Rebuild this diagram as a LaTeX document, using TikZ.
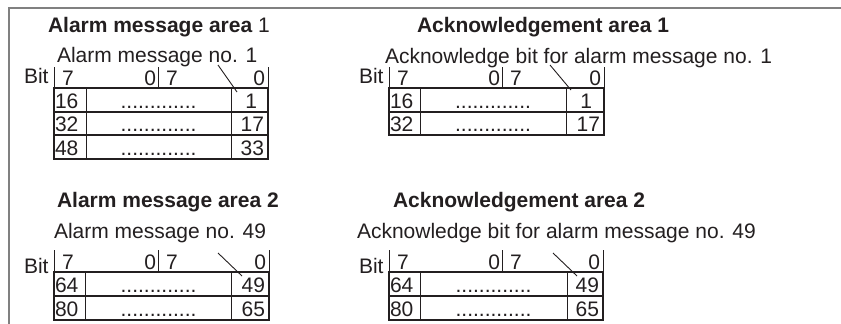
\documentclass[tikz,border=0pt]{standalone}
\usepackage{fontspec}
\setmainfont{Liberation Sans}
\usetikzlibrary{positioning, calc}
\definecolor{ink}{RGB}{35, 31, 32}
\definecolor{framegray}{RGB}{128, 128, 128}

\begin{document}
\begin{tikzpicture}[
        x=1pt, y=-1pt,
        every node/.style={inner sep=0pt, outer sep=0pt, text=ink,
                           font=\fontsize{21}{25}\selectfont},
        title/.style={anchor=base west, font=\fontsize{21}{25}\selectfont\bfseries},
        caption/.style={anchor=base west},
        lnum/.style={anchor=base west},
        rnum/.style={anchor=base east},
        dots/.style={anchor=base},
        box/.style={draw=ink, line width=2pt},
        grid/.style={draw=ink, line width=0.8pt},
        leader/.style={draw=ink, line width=0.9pt},
    ]
        \useasboundingbox (0,0) rectangle (841,324);
        \draw[framegray, line width=1.5pt] (9,324) -- (9,8) -- (841,8);

        % alarm message area 1
        \node[title] (a1-title) at (48,32) {Alarm message area \mdseries 1};
        \node[caption] (a1-caption) at (57,62) {Alarm message no. 1};
        \node[caption] (a1-bit) at (24,83) {Bit};
        \begin{scope}[shift={(54,88)}]
            \draw[grid] (0,-21) -- (0,0) (104,-21) -- (104,0) (214,-21) -- (214,0);
            \draw[grid] (32,0) -- (32,71) (177,0) -- (177,71);
            \draw[box] (0,0) rectangle (214,71);
            \draw[box] (0,23.5) -- (214,23.5) (0,47) -- (214,47);
            \node[lnum] (a1-h1) at (8,-3) {7};
            \node[rnum] (a1-h2) at (102,-3) {0};
            \node[lnum] (a1-h3) at (112,-3) {7};
            \node[rnum] (a1-h4) at (211,-3) {0};
            \foreach \l/\r/\rx [count=\i from 0] in {16/1/203, 32/17/210, 48/33/210} {
                \node[lnum] (a1-r\i-l) at (1,23.5*\i+20) {\l};
                \node[dots] (a1-r\i-m) at (104.5,23.5*\i+20) {.............};
                \node[rnum] (a1-r\i-r) at (\rx,23.5*\i+20) {\r};
            }
            \coordinate (a1-from) at (164,-23);
            \coordinate (a1-tip) at (183,4);
        \end{scope}
        \draw[leader] (a1-from) -- (a1-tip);

        % acknowledgement area 1
        \node[title] (b1-title) at (417,32) {Acknowledgement area 1};
        \node[caption] (b1-caption) at (385,63) {Acknowledge bit for alarm message no. 1};
        \node[caption] (b1-bit) at (359,83) {Bit};
        \begin{scope}[shift={(389,88)}]
            \draw[grid] (0,-21) -- (0,0) (113,-21) -- (113,0) (215,-21) -- (215,0);
            \draw[grid] (31,0) -- (31,47) (177,0) -- (177,47);
            \draw[box] (0,0) rectangle (215,47);
            \draw[box] (0,23.5) -- (215,23.5);
            \node[lnum] (b1-h1) at (8,-3) {7};
            \node[rnum] (b1-h2) at (111,-3) {0};
            \node[lnum] (b1-h3) at (121,-3) {7};
            \node[rnum] (b1-h4) at (212,-3) {0};
            \foreach \l/\r/\rx [count=\i from 0] in {16/1/203, 32/17/211} {
                \node[lnum] (b1-r\i-l) at (1,23.5*\i+20) {\l};
                \node[dots] (b1-r\i-m) at (104,23.5*\i+20) {.............};
                \node[rnum] (b1-r\i-r) at (\rx,23.5*\i+20) {\r};
            }
            \coordinate (b1-from) at (161,-23);
            \coordinate (b1-tip) at (182,2);
        \end{scope}
        \draw[leader] (b1-from) -- (b1-tip);

        % alarm message area 2
        \node[title] (a2-title) at (57,207) {Alarm message area 2};
        \node[caption] (a2-caption) at (54,238) {Alarm message no. 49};
        \node[caption] (a2-bit) at (24,273) {Bit};
        \begin{scope}[shift={(54,272)}]
            \draw[grid] (0,-22) -- (0,0) (104,-22) -- (104,0) (215,-22) -- (215,0);
            \draw[grid] (31,0) -- (31,48) (177,0) -- (177,48);
            \draw[box] (0,0) rectangle (215,48);
            \draw[box] (0,24) -- (215,24);
            \node[lnum] (a2-h1) at (8,-3) {7};
            \node[rnum] (a2-h2) at (102,-3) {0};
            \node[lnum] (a2-h3) at (112,-3) {7};
            \node[rnum] (a2-h4) at (212,-3) {0};
            \foreach \l/\r [count=\i from 0] in {64/49, 80/65} {
                \node[lnum] (a2-r\i-l) at (1,24*\i+20) {\l};
                \node[dots] (a2-r\i-m) at (104.5,24*\i+20) {.............};
                \node[rnum] (a2-r\i-r) at (211,24*\i+20) {\r};
            }
            \coordinate (a2-from) at (164,-19);
            \coordinate (a2-tip) at (188,4);
        \end{scope}
        \draw[leader] (a2-from) -- (a2-tip);

        % acknowledgement area 2
        \node[title] (b2-title) at (393,207) {Acknowledgement area 2};
        \node[caption] (b2-caption) at (357,238) {Acknowledge bit for alarm message no. 49};
        \node[caption] (b2-bit) at (359,273) {Bit};
        \begin{scope}[shift={(389,272)}]
            \draw[grid] (0,-22) -- (0,0) (113,-22) -- (113,0) (214,-22) -- (214,0);
            \draw[grid] (31,0) -- (31,48) (178,0) -- (178,48);
            \draw[box] (0,0) rectangle (214,48);
            \draw[box] (0,24) -- (214,24);
            \node[lnum] (b2-h1) at (8,-3) {7};
            \node[rnum] (b2-h2) at (111,-3) {0};
            \node[lnum] (b2-h3) at (121,-3) {7};
            \node[rnum] (b2-h4) at (211,-3) {0};
            \foreach \l/\r [count=\i from 0] in {64/49, 80/65} {
                \node[lnum] (b2-r\i-l) at (1,24*\i+20) {\l};
                \node[dots] (b2-r\i-m) at (104.5,24*\i+20) {.............};
                \node[rnum] (b2-r\i-r) at (210,24*\i+20) {\r};
            }
            \coordinate (b2-from) at (164,-19);
            \coordinate (b2-tip) at (188,4);
        \end{scope}
        \draw[leader] (b2-from) -- (b2-tip);
    \end{tikzpicture}
\end{document}
